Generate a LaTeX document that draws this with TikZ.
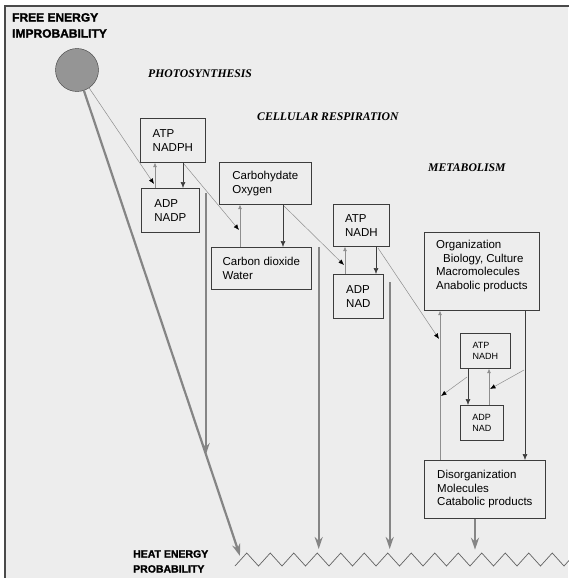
\documentclass[tikz,border=0pt]{standalone}
\usepackage{fontspec}
\setmainfont{Liberation Sans}
\newfontfamily\titlefont{Liberation Serif}
\newfontfamily\heavyfont[FakeBold=1.6]{Liberation Sans Bold}
\usetikzlibrary{arrows.meta,calc}
\definecolor{Paper}{HTML}{EDEDED}
\definecolor{Frame}{HTML}{4A4A4A}
\definecolor{Ink}{HTML}{3C3C3C}
\definecolor{Heat}{HTML}{858585}
\definecolor{Faint}{HTML}{8E8E8E}
\definecolor{Sun}{HTML}{959595}

\begin{document}
\begin{tikzpicture}[x=1pt,y=-1pt,
  box/.style={draw=Ink,line width=0.7pt,fill=Paper,anchor=north west,align=left,inner sep=0pt,font=\fontsize{11.5}{13.5}\selectfont},
  smallbox/.style={box,font=\fontsize{9}{11}\selectfont},
  stage/.style={anchor=west,inner sep=0pt,font=\titlefont\bfseries\itshape\fontsize{11.7}{13}\selectfont},
  heading/.style={anchor=north west,align=left,inner sep=0pt,font=\heavyfont\fontsize{12}{16}\selectfont},
  release/.style={draw=Ink,line width=0.6pt,-{Latex[length=6pt,width=5pt]}},
  refill/.style={draw=Faint,line width=0.6pt,-{Latex[length=4.5pt,width=4pt]}},
  transfer/.style={draw=Faint,line width=0.5pt,-{Latex[length=5.5pt,width=4.5pt,black]}},
  heat/.style={draw=Heat,line width=2.2pt,-{Stealth[length=12pt,width=8pt]}},
  zig/.style={draw=Ink!80,line width=0.7pt}
]
\useasboundingbox (0,0) rectangle (569,578);
\clip (0,0) rectangle (569,578);
\fill[Paper] (5,6) rectangle (568,578);
\draw[Frame,line width=1.6pt] (5,580) -- (5,6) -- (569,6);

% titles
\node[heading] (free) at (12,13) {FREE ENERGY\\IMPROBABILITY};
\node[heading,font=\heavyfont\fontsize{10.5}{15}\selectfont] (heatlbl) at (133,550) {HEAT ENERGY\\PROBABILITY};
\node[stage] (photo) at (148,74) {PHOTOSYNTHESIS};
\node[stage] (resp) at (257,117) {CELLULAR RESPIRATION};
\node[stage] (metab) at (428,168) {METABOLISM};

\node[circle,draw=Ink,fill=Sun,minimum size=43pt,inner sep=0pt] (sun) at (77,70) {};

% boxes
\node[box,minimum width=65pt,minimum height=44pt] (atpP) at (140,118) {ATP\\NADPH};
\node[box,minimum width=58pt,minimum height=44pt] (adpP) at (141,188) {ADP\\NADP};
\node[box,minimum width=92pt,minimum height=42pt] (carb) at (219,162) {Carbohydate\\Oxygen};
\node[box,minimum width=100pt,minimum height=42pt] (codw) at (211,247) {Carbon dioxide\\Water};
\node[box,minimum width=56pt,minimum height=42pt] (atpR) at (333,204) {ATP\\NADH};
\node[box,minimum width=50pt,minimum height=44pt] (adpR) at (333,274) {ADP\\NAD};
\node[box,minimum width=115pt,minimum height=78pt] (org) at (424,232) {Organization\\\hspace*{7pt}Biology, Culture\\Macromolecules\\Anabolic products\\\mbox{}};
\node[smallbox,minimum width=50pt,minimum height=35pt] (atpM) at (460,333) {ATP\\NADH};
\node[smallbox,minimum width=43pt,minimum height=35pt] (adpM) at (460,405) {ADP\\NAD};
\node[box,minimum width=121pt,minimum height=58pt] (dis) at (424,460) {Disorganization\\Molecules\\Catabolic products};

% columns of the short arrows
\foreach \n/\x in {u1/155,r1/183,u2/240,r2/283,u3/345,r3/376,u4/440,r4/525,r5/468,u5/489}
  \coordinate (\n) at (\x,0);

\draw[release] (atpP.south -| r1) -- (adpP.north -| r1);
\draw[refill] (adpP.north -| u1) -- (atpP.south -| u1);
\draw[release] (carb.south -| r2) -- (codw.north -| r2);
\draw[refill] (codw.north -| u2) -- (carb.south -| u2);
\draw[release] (atpR.south -| r3) -- (adpR.north -| r3);
\draw[refill] (adpR.north -| u3) -- (atpR.south -| u3);
\draw[release] (org.south -| r4) -- (dis.north -| r4);
\draw[refill] (dis.north -| u4) -- (org.south -| u4);
\draw[release] (atpM.south -| r5) -- (adpM.north -| r5);
\draw[refill] (adpM.north -| u5) -- (atpM.south -| u5);

% energy handed on
\coordinate (e1) at (154,184);
\coordinate (s2) at (184,164);
\coordinate (e2) at (239,230);
\coordinate (s3) at (284,206);
\coordinate (e3) at (344,265);
\coordinate (s4) at (378,248);
\coordinate (e4) at (439,339);
\coordinate (s5) at (467,377);
\coordinate (e5) at (441,396);
\coordinate (s6) at (524,370);
\coordinate (e6) at (490,389);
\draw[transfer] (sun) -- (e1);
\foreach \i in {2,...,6}
  \draw[transfer] (s\i) -- (e\i);

% heat
\coordinate (sink) at (240,556);
\coordinate (zz) at (235,566);
\draw[zig] (zz) \foreach \i in {1,...,15} { -- ++(11.75,-13) -- ++(11.75,13) };
\draw[heat] (sun) -- (sink);
\draw[heat] ([xshift=6pt,yshift=-5pt]adpP.north east) -- ++(0,262);
\draw[heat] ([xshift=7pt]codw.north east) -- ++(0,302);
\draw[heat] ([xshift=6pt,yshift=-8pt]adpR.north east) -- ++(0,267);
\draw[heat] (dis.south -| 475,0) -- ++(0,31);
\end{tikzpicture}
\end{document}
